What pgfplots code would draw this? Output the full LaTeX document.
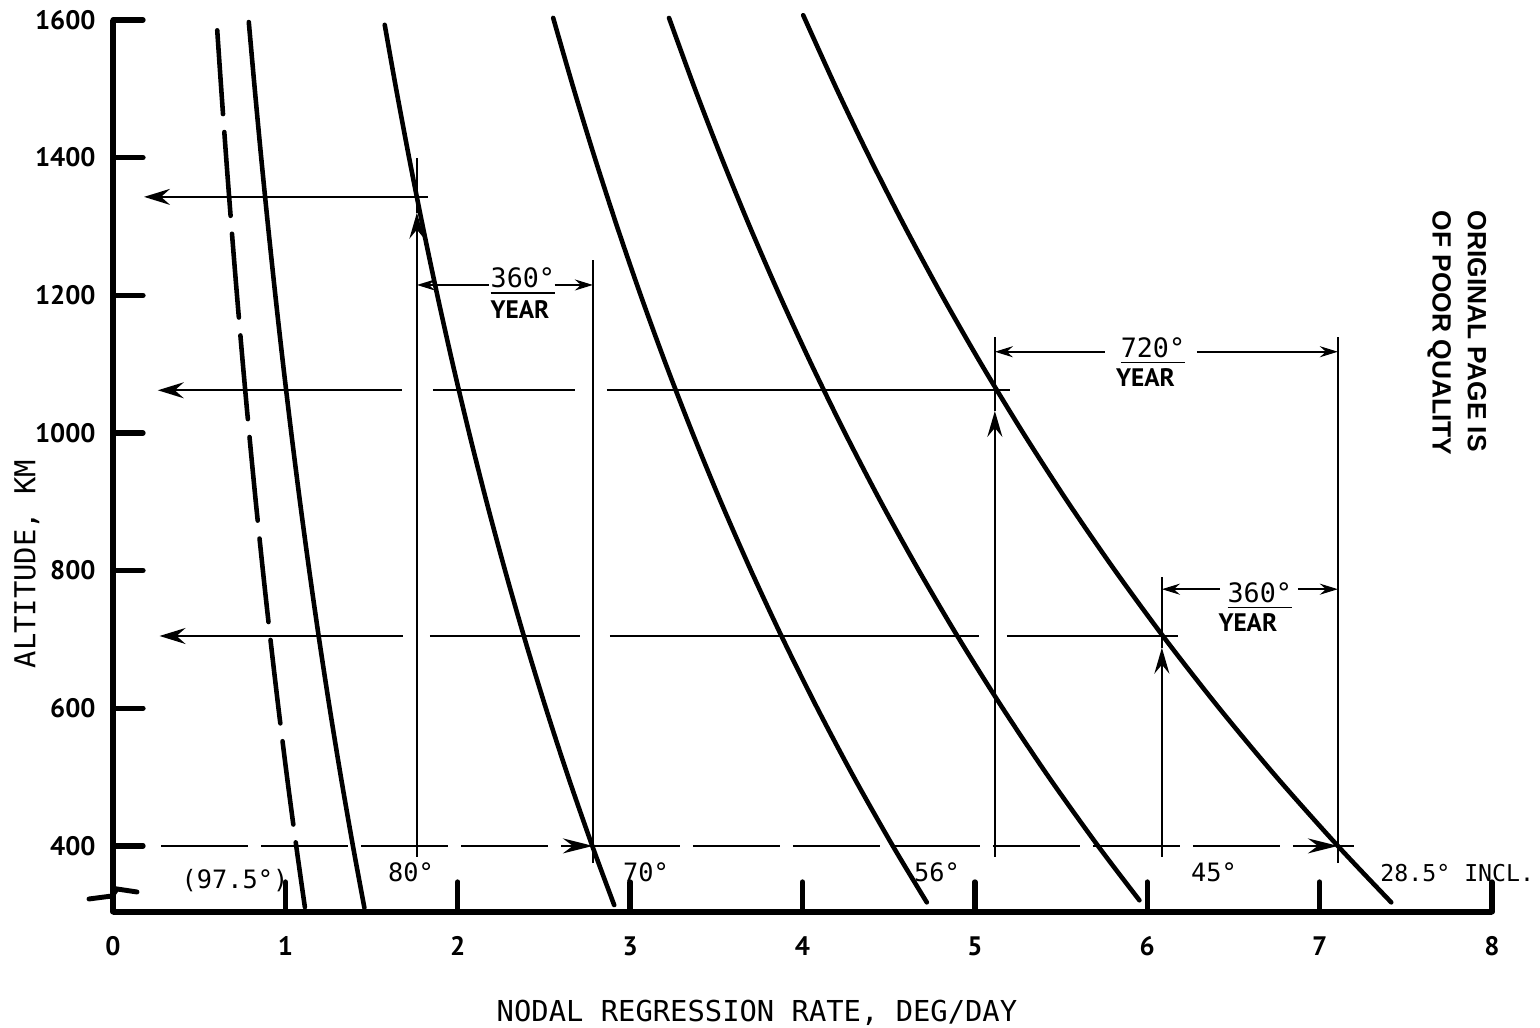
\documentclass[border=0pt]{standalone}
\usepackage{fontspec}
\usepackage{pgfplots}
\pgfplotsset{compat=1.18}
\usetikzlibrary{arrows.meta}
\setmainfont{PT Sans}
\newfontfamily\monof{DejaVu Sans Mono}
\newfontfamily\arialf{Liberation Sans}
\tikzset{
  crv/.style={line width=1.3pt, line cap=round, smooth},
  ann/.style={line width=0.55pt},
  bigarr/.style={-{Stealth[length=2.6mm,width=1.6mm,inset=0.9mm]}},
  uparr/.style={-{Stealth[length=2.6mm,width=1.5mm,inset=0.9mm]}},
  dimarr/.style={-{Stealth[length=1.8mm,width=1.1mm,inset=0.6mm]}},
  dasharr/.style={-{Stealth[length=3mm,width=1.5mm,inset=1mm]}},
  dsh/.style={line width=0.7pt, dash pattern=on 8.7mm off 1.3mm},
  crvlbl/.style={font=\fontsize{7.2}{8}\monof, inner sep=0pt},
  numf/.style={font=\fontsize{7.6}{9}\monof, inner sep=0pt, anchor=base},
  yearf/.style={font=\fontsize{7.2}{8}\selectfont\bfseries, inner sep=0pt, anchor=base},
}
\begin{document}
\begin{tikzpicture}
\useasboundingbox (0,0) rectangle (15.4,10.28);
\begin{axis}[
  at={(1.13cm,1.16cm)}, anchor=south west,
  scale only axis, width=13.79cm, height=8.92cm,
  xmin=0, xmax=8, ymin=304, ymax=1600,
  axis x line=bottom, axis y line=left,
  axis line style={line width=1.5pt, -},
  xtick={0,...,8}, ytick={400,600,...,1600},
  tick align=inside,
  major tick length=0.3cm,
  tick style={line width=1.5pt, black, line cap=round},
  clip=false,
  /pgf/number format/assume math mode=true,
  /pgf/number format/1000 sep={},
  ticklabel style={font=\fontsize{7.6}{9}\selectfont\bfseries},
  xticklabel style={yshift=-0.12cm},
  yticklabel style={xshift=-0.05cm},
  xlabel={NODAL REGRESSION RATE, DEG/DAY},
  ylabel={ALTITUDE, KM},
  label style={font=\fontsize{8.2}{10}\monof},
  xlabel style={at={(axis description cs:0.467,-0.113)}, anchor=center},
  ylabel style={at={(axis description cs:-0.0624,0.390)}, anchor=center},
]
% 97.5 deg (dashed)
\addplot[crv, dash pattern=on 8.4mm off 1.8mm] coordinates {
 (0.6047,1585) (0.6279,1500) (0.6566,1400) (0.6870,1300) (0.7193,1200) (0.7535,1100) (0.7898,1000)
 (0.8284,900) (0.8696,800) (0.9134,700) (0.9600,600) (1.0097,500) (1.0629,400) (1.1132,311)};
% 80 deg
\addplot[crv] coordinates {
 (0.7878,1597) (0.8223,1500) (0.8598,1400) (0.8997,1300) (0.9419,1200) (0.9867,1100) (1.0343,1000)
 (1.0848,900) (1.1387,800) (1.1960,700) (1.2572,600) (1.3223,500) (1.3919,400) (1.4585,310)};
% 70 deg
\addplot[crv] coordinates {
 (1.5764,1593) (1.6426,1500) (1.7177,1400) (1.7972,1300) (1.8816,1200) (1.9711,1100) (2.0662,1000)
 (2.1672,900) (2.2748,800) (2.3893,700) (2.5114,600) (2.6414,500) (2.7805,400) (2.9076,314)};
% 56 deg
\addplot[crv] coordinates {
 (2.5537,1603) (2.6726,1500) (2.7947,1400) (2.9242,1300) (3.0614,1200) (3.2071,1100) (3.3618,1000)
 (3.5261,900) (3.7012,800) (3.8875,700) (4.0861,600) (4.2977,500) (4.5239,400) (4.7212,318)};
% 45 deg
\addplot[crv] coordinates {
 (3.2258,1603) (3.3759,1500) (3.5302,1400) (3.6937,1300) (3.8671,1200) (4.0511,1100) (4.2465,1000)
 (4.4540,900) (4.6753,800) (4.9105,700) (5.1615,600) (5.4288,500) (5.7145,400) (5.9546,321)};
% 28.5 deg
\addplot[crv] coordinates {
 (4.0040,1607) (4.1977,1500) (4.3895,1400) (4.5929,1300) (4.8084,1200) (5.0372,1100) (5.2802,1000)
 (5.5382,900) (5.8133,800) (6.1059,700) (6.4179,600) (6.7503,500) (7.1056,400) (7.4155,318)};

% horizontal leaders
\addplot[ann, bigarr] coordinates {(1.826,1343) (0.18,1343)};
\addplot[ann, bigarr] coordinates {(1.676,1062) (0.26,1062)};
\addplot[ann] coordinates {(1.856,1062) (2.680,1062)};
\addplot[ann] coordinates {(2.865,1062) (5.203,1062)};
\addplot[ann, bigarr] coordinates {(1.682,705) (0.27,705)};
\addplot[ann] coordinates {(1.839,705) (2.709,705)};
\addplot[ann] coordinates {(2.883,705) (5.023,705)};
\addplot[ann] coordinates {(5.186,705) (6.180,705)};
% dashed 400 km line
\addplot[dsh, dasharr] coordinates {(0.28,400) (2.784,400)};
\addplot[dsh, dasharr] coordinates {(2.784,400) (7.106,400)};
\addplot[line width=0.7pt] coordinates {(7.106,400) (7.20,400)};
% verticals
\addplot[ann, uparr] coordinates {(1.763,384) (1.763,1320)};
\addplot[ann] coordinates {(1.763,1320) (1.763,1400)};
\addplot[ann] coordinates {(2.784,375) (2.784,1251)};
\addplot[ann, uparr] coordinates {(5.116,384) (5.116,1032)};
\addplot[ann] coordinates {(5.116,1032) (5.116,1140)};
\addplot[ann] coordinates {(7.106,375) (7.106,1140)};
\addplot[ann, uparr] coordinates {(6.085,384) (6.085,688)};
\addplot[ann] coordinates {(6.085,688) (6.085,791)};
% dimension lines
\addplot[ann, dimarr] coordinates {(2.179,1215) (1.763,1215)};
\addplot[ann, dimarr] coordinates {(2.562,1215) (2.784,1215)};
\addplot[ann, dimarr] coordinates {(5.754,1118) (5.116,1118)};
\addplot[ann, dimarr] coordinates {(6.288,1118) (7.106,1118)};
\addplot[ann, dimarr] coordinates {(6.421,773) (6.085,773)};
\addplot[ann, dimarr] coordinates {(6.874,773) (7.106,773)};

\node[numf] at (axis cs:2.378,1211) {\underline{360°}};
\node[yearf] at (axis cs:2.361,1167) {YEAR};
\node[numf] at (axis cs:6.033,1110) {\underline{720°}};
\node[yearf] at (axis cs:5.990,1067) {YEAR};
\node[numf] at (axis cs:6.653,754) {\underline{360°}};
\node[yearf] at (axis cs:6.584,711) {YEAR};

% curve labels
\node[crvlbl] at (axis cs:0.708,350) {(97.5°)};
\node[crvlbl] at (axis cs:1.729,362) {80°};
\node[crvlbl] at (axis cs:3.092,361) {70°};
\node[crvlbl] at (axis cs:4.780,361) {56°};
\node[crvlbl] at (axis cs:6.387,361) {45°};
\node[crvlbl, font=\fontsize{6.6}{8}\monof, anchor=west] at (axis cs:7.349,361) {28.5° INCL.};
\end{axis}
% broken-axis mark
\draw[line width=1.4pt, line cap=round] (0.89,1.29) -- (1.12,1.32) -- (1.17,1.39) -- (1.37,1.36);
\node[rotate=-90, anchor=north west, align=left, inner sep=0pt,
      font=\fontsize{7.5}{10}\arialf\bfseries] at (14.87,8.18)
      {ORIGINAL PAGE IS\\OF POOR QUALITY};
\end{tikzpicture}
\end{document}
